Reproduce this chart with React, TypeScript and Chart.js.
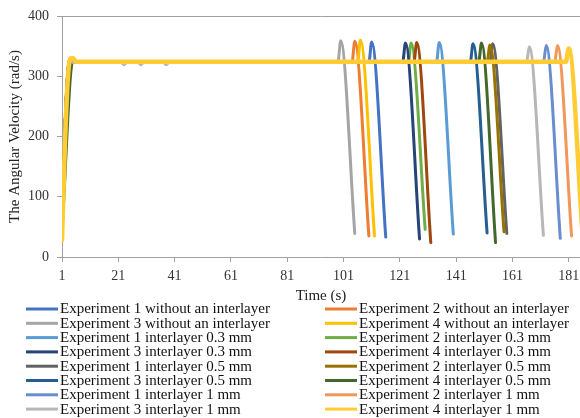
import React, { useEffect, useRef } from "react";
import { Chart, registerables } from "chart.js";

Chart.register(...registerables);

type Pt = [number, number];

const seriesNames: string[] = [
  "Experiment 1 without an interlayer",
  "Experiment 2 without an interlayer",
  "Experiment 3 without an interlayer",
  "Experiment 4 without an interlayer",
  "Experiment 1 interlayer 0.3 mm",
  "Experiment 2 interlayer 0.3 mm",
  "Experiment 3 interlayer 0.3 mm",
  "Experiment 4 interlayer 0.3 mm",
  "Experiment 1 interlayer 0.5 mm",
  "Experiment 2 interlayer 0.5 mm",
  "Experiment 3 interlayer 0.5 mm",
  "Experiment 4 interlayer 0.5 mm",
  "Experiment 1 interlayer 1 mm",
  "Experiment 2 interlayer 1 mm",
  "Experiment 3 interlayer 1 mm",
  "Experiment 4 interlayer 1 mm",
];

const seriesColors: string[] = [
  "#4472C4", "#ED7D31", "#A5A5A5", "#FFC000",
  "#5B9BD5", "#70AD47", "#264478", "#9E480E",
  "#636363", "#997300", "#255E91", "#43682B",
  "#698ED0", "#F1975A", "#B7B7B7", "#FFCD33",
];

// [time (s), angular velocity (rad/s)]
const exp1Without: Pt[] = [[1, 30], [2, 200], [3, 300], [4, 328], [5, 323], [110, 323], [111, 357], [116, 33]];
const exp2Without: Pt[] = [[1, 31], [2, 205], [3, 302], [4, 328], [5, 323], [104, 323], [105, 358], [110, 35]];
const exp3Without: Pt[] = [[1, 32], [2, 198], [3, 298], [4, 327], [5, 323], [99, 323], [100, 359], [105, 39]];
const exp4Without: Pt[] = [[1, 30], [2, 210], [3, 305], [4, 329], [5, 323], [106, 323], [107, 360], [112, 35]];
const exp1Int03: Pt[] = [[1, 30], [2, 200], [3, 300], [4, 328], [5, 323], [134, 323], [135, 356], [140, 38]];
const exp2Int03: Pt[] = [[1, 33], [2, 195], [3, 297], [4, 327], [5, 323], [124, 323], [125, 355], [130, 46]];
const exp3Int03: Pt[] = [[1, 30], [2, 202], [3, 301], [4, 328], [5, 323], [122, 323], [123, 355], [128, 30]];
const exp4Int03: Pt[] = [[1, 29], [2, 200], [3, 300], [4, 328], [5, 323], [126, 323], [127, 356], [132, 24]];
const exp1Int05: Pt[] = [[1, 31], [2, 200], [3, 300], [4, 328], [5, 323], [153, 323], [154, 354], [159, 39]];
const exp2Int05: Pt[] = [[1, 30], [2, 198], [3, 299], [4, 328], [5, 323], [152, 323], [153, 352], [158, 42]];
const exp3Int05: Pt[] = [[1, 32], [2, 203], [3, 302], [4, 328], [5, 323], [146, 323], [147, 354], [152, 40]];
const exp4Int05: Pt[] = [[1, 40], [2, 130], [3, 225], [4, 300], [5, 330], [6, 323], [149, 323], [150, 355], [155, 24]];
const exp1Int1: Pt[] = [[1, 30], [2, 200], [3, 300], [4, 328], [5, 323], [172, 323], [173, 351], [178, 31]];
const exp2Int1: Pt[] = [[1, 31], [2, 201], [3, 300], [4, 328], [5, 323], [176, 323], [177, 351], [182, 35]];
const exp3Int1: Pt[] = [[1, 30], [2, 199], [3, 299], [4, 327], [5, 323], [22, 323], [23, 319], [24, 323], [28, 323], [29, 319], [30, 323], [37, 323], [38, 319], [39, 323], [166, 323], [167, 349], [172, 36]];
const exp4Int1: Pt[] = [[1, 28], [2, 180], [3, 290], [4, 330], [5, 330], [6, 324], [180, 324], [181, 346], [186, 30]];

const seriesData: Pt[][] = [
  exp1Without, exp2Without, exp3Without, exp4Without,
  exp1Int03, exp2Int03, exp3Int03, exp4Int03,
  exp1Int05, exp2Int05, exp3Int05, exp4Int05,
  exp1Int1, exp2Int1, exp3Int1, exp4Int1,
];

const xTickValues: number[] = [1, 21, 41, 61, 81, 101, 121, 141, 161, 181];
const xMin = 1;
const xMax = 185;
const yMin = 0;
const yMax = 400;
const yStep = 100;

const FONT = '"Liberation Serif", "Times New Roman", serif';
const AXIS_GRAY = "#a0a0a0";

const columnLegend = {
  id: "columnLegend",
  afterDraw(chart: any) {
    const ctx: CanvasRenderingContext2D = chart.ctx;
    const top = chart.chartArea.bottom + 52;
    const rowH = 14.3;
    const colX = [26, 325];
    ctx.save();
    ctx.font = `15px ${FONT}`;
    ctx.textBaseline = "middle";
    ctx.textAlign = "left";
    chart.data.datasets.forEach((ds: any, i: number) => {
      const col = i % 2;
      const row = Math.floor(i / 2);
      const x0 = colX[col];
      const y = top + row * rowH;
      ctx.strokeStyle = ds.borderColor;
      ctx.lineWidth = 3;
      ctx.lineCap = "butt";
      ctx.beginPath();
      ctx.moveTo(x0, y);
      ctx.lineTo(x0 + 32, y);
      ctx.stroke();
      ctx.fillStyle = "#111";
      ctx.fillText(ds.label, x0 + 34, y + 0.5);
    });
    ctx.restore();
  },
};

export default function App() {
  const ref = useRef<HTMLCanvasElement | null>(null);

  useEffect(() => {
    if (!ref.current) return;
    const n = seriesData.length;
    const chart = new Chart(ref.current, {
      type: "line",
      data: {
        datasets: seriesData.map((pts, i) => ({
          label: seriesNames[i],
          data: pts.map(([x, y]) => ({ x, y })),
          borderColor: seriesColors[i],
          backgroundColor: seriesColors[i],
          borderWidth: i === n - 1 ? 4.5 : 3,
          pointRadius: 0,
          pointHoverRadius: 0,
          cubicInterpolationMode: "monotone",
          borderCapStyle: "round",
          borderJoinStyle: "round",
          fill: false,
          order: n - i,
        })),
      },
      options: {
        responsive: false,
        animation: false,
        events: [],
        layout: { padding: { top: 16, right: 0, left: 0, bottom: 113 } },
        plugins: {
          legend: { display: false },
          tooltip: { enabled: false },
          title: { display: false },
        },
        scales: {
          x: {
            type: "linear",
            min: xMin,
            max: xMax,
            afterBuildTicks: (scale: any) => {
              scale.ticks = xTickValues.map((v) => ({ value: v }));
            },
            afterFit: (scale: any) => {
              scale.height = 48;
              scale.paddingLeft = 0;
              scale.paddingRight = 0;
            },
            ticks: {
              autoSkip: false,
              maxRotation: 0,
              padding: 6,
              color: "#333",
              font: { family: FONT, size: 14 },
            },
            grid: {
              drawOnChartArea: false,
              drawTicks: true,
              tickLength: 5,
              color: AXIS_GRAY,
            },
            border: { display: true, color: AXIS_GRAY, width: 1 },
            title: {
              display: true,
              text: "Time (s)",
              color: "#222",
              font: { family: FONT, size: 15 },
              padding: { top: 0, bottom: 0 },
            },
          },
          y: {
            type: "linear",
            min: yMin,
            max: yMax,
            afterFit: (scale: any) => {
              scale.width = 62;
              scale.paddingTop = 0;
              scale.paddingBottom = 0;
            },
            ticks: {
              stepSize: yStep,
              padding: 8,
              color: "#333",
              font: { family: FONT, size: 14 },
            },
            grid: {
              drawOnChartArea: true,
              drawTicks: true,
              tickLength: 5,
              color: (c: any) => (c.tick && c.tick.value === yMax ? AXIS_GRAY : "rgba(0,0,0,0)"),
              tickColor: AXIS_GRAY,
            },
            border: { display: true, color: AXIS_GRAY, width: 1 },
            title: {
              display: true,
              text: "The Angular Velocity (rad/s)",
              color: "#222",
              font: { family: FONT, size: 15 },
              padding: { top: 6, bottom: 0 },
            },
          },
        },
      },
      plugins: [columnLegend],
    } as any);
    return () => chart.destroy();
  }, []);

  return (
    <div style={{ position: "absolute", left: 0, top: 0, width: 580, height: 418, background: "#fff" }}>
      <canvas ref={ref} width={580} height={418} style={{ display: "block" }} />
    </div>
  );
}
